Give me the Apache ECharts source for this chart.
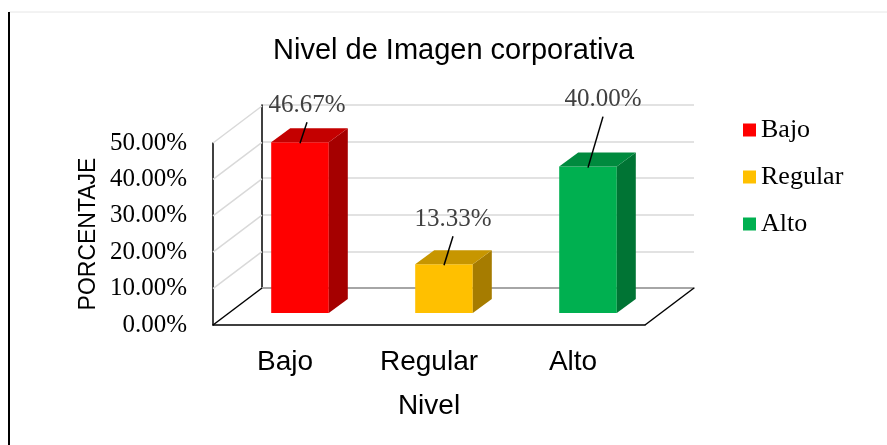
<!DOCTYPE html>
<html>
<head>
<meta charset="utf-8">
<script src="https://cdn.jsdelivr.net/npm/echarts@6/dist/echarts.min.js"></script>
<style>
  html, body { margin: 0; padding: 0; background: #fff; }
  #chart { width: 887px; height: 445px; }
</style>
</head>
<body>
<div id="chart"></div>
<script>
// data
var categories = ['Bajo', 'Regular', 'Alto'];
var values = [0.4667, 0.1333, 0.40];
var yTicks = [0, 0.1, 0.2, 0.3, 0.4, 0.5];

// colours: front, side, top
var faceColors = ['#FF0000', '#FFC000', '#00B050'];
var sideColors = ['#A50000', '#A67C00', '#007434'];
var topColors = ['#C40000', '#C79600', '#008A3E'];

var SERIF = '"Liberation Serif", "Times New Roman", serif';
var SANS = '"Liberation Sans", Arial, sans-serif';

// depth of the box (walls) and of each bar
var WALL_DX = 49, WALL_DY = 37;
var BAR_DX = 19, BAR_DY = 14;
var BAR_RATIO = 0.4;
// manual label placement relative to bar top (as in the original)
var labelShift = [[7, -37], [9, -45], [15, -67]];

function pct(v) { return (v * 100).toFixed(2) + '%'; }

var myChart = echarts.init(document.getElementById('chart'));

function renderWalls(params, api) {
  var v = api.value(1);
  var band = api.size([1, 0])[0];
  var p = api.coord([0, v]);
  var xl = p[0] - band / 2;
  var children = [{
    type: 'line',
    shape: { x1: xl, y1: p[1], x2: xl + WALL_DX, y2: p[1] - WALL_DY },
    style: { stroke: v === 0 ? '#000' : '#d9d9d9', lineWidth: 1.5 }
  }];
  if (v === 0) {
    var xr = api.coord([categories.length - 1, 0])[0] + band / 2;
    children.push({
      type: 'line',
      shape: { x1: xr, y1: p[1], x2: xr + WALL_DX, y2: p[1] - WALL_DY },
      style: { stroke: '#000', lineWidth: 1.5 }
    });
  }
  return { type: 'group', children: children };
}

function renderBar(params, api) {
  var i = api.value(0), v = api.value(1);
  var top = api.coord([i, v]);
  var base = api.coord([i, 0]);
  var w = api.size([1, 0])[0] * BAR_RATIO;
  var x0 = top[0] - w / 2, x1 = top[0] + w / 2;
  var lx = top[0] + labelShift[i][0], ly = top[1] + labelShift[i][1];
  return {
    type: 'group',
    children: [
      { type: 'rect', shape: { x: x0, y: top[1], width: w, height: base[1] - top[1] },
        style: { fill: faceColors[i] } },
      { type: 'polygon', shape: { points: [[x1, top[1]], [x1 + BAR_DX, top[1] - BAR_DY], [x1 + BAR_DX, base[1] - BAR_DY], [x1, base[1]]] },
        style: { fill: sideColors[i] } },
      { type: 'polygon', shape: { points: [[x0, top[1]], [x0 + BAR_DX, top[1] - BAR_DY], [x1 + BAR_DX, top[1] - BAR_DY], [x1, top[1]]] },
        style: { fill: topColors[i] } },
      { type: 'line', shape: { x1: lx, y1: ly + 17, x2: top[0], y2: top[1] + 1 },
        style: { stroke: '#000', lineWidth: 1.5 } },
      { type: 'text', x: lx, y: ly,
        style: { text: pct(v), fill: '#404040', font: '25px ' + SERIF, align: 'center', verticalAlign: 'middle' } }
    ]
  };
}

var series = [{
  name: 'walls',
  type: 'custom',
  xAxisIndex: 0, yAxisIndex: 0,
  z: 1,
  silent: true,
  renderItem: renderWalls,
  encode: { x: 0, y: 1 },
  data: yTicks.map(function (t) { return [0, t]; })
}];
categories.forEach(function (c, i) {
  series.push({
    name: c,
    type: 'custom',
    xAxisIndex: 2, yAxisIndex: 2,
    z: 3,
    itemStyle: { color: faceColors[i] },
    renderItem: renderBar,
    encode: { x: 0, y: 1 },
    data: [[i, values[i]]]
  });
});

var option = {
  animation: false,
  title: {
    text: 'Nivel de Imagen corporativa',
    left: 268, top: 31,
    textStyle: { fontFamily: SANS, fontSize: 29, fontWeight: 'normal', color: '#000' }
  },
  legend: {
    data: categories,
    orient: 'vertical',
    left: 738, top: 112,
    icon: 'rect',
    itemWidth: 13, itemHeight: 13,
    itemGap: 21,
    textStyle: { fontFamily: SERIF, fontSize: 26, color: '#000', lineHeight: 26 }
  },
  grid: [
    { left: 213, top: 143, width: 432, height: 182 },  // front plane
    { left: 262, top: 105, width: 432, height: 183 },  // back wall
    { left: 228, top: 130, width: 432, height: 183 }   // bars (mid depth)
  ],
  xAxis: [
    { type: 'category', gridIndex: 0, data: categories,
      axisLine: { lineStyle: { color: '#000', width: 1.5 } },
      axisTick: { show: false },
      axisLabel: { fontFamily: SANS, fontSize: 28, color: '#000', margin: 23 },
      name: 'Nivel', nameLocation: 'middle', nameGap: 67,
      nameTextStyle: { fontFamily: SANS, fontSize: 28, color: '#000' } },
    { type: 'category', gridIndex: 1, data: categories,
      axisLine: { lineStyle: { color: '#a6a6a6', width: 2 } },
      axisTick: { show: false }, axisLabel: { show: false } },
    { type: 'category', gridIndex: 2, data: categories, show: false }
  ],
  yAxis: [
    { type: 'value', gridIndex: 0, min: 0, max: 0.5, interval: 0.1,
      axisLine: { show: true, lineStyle: { color: '#000', width: 1.5 } },
      axisTick: { show: false },
      splitLine: { show: false },
      axisLabel: { formatter: pct, fontFamily: SERIF, fontSize: 25, color: '#000', margin: 26 },
      name: 'PORCENTAJE', nameLocation: 'middle', nameGap: 113,
      nameTextStyle: { fontFamily: SANS, fontSize: 23, color: '#000' } },
    { type: 'value', gridIndex: 1, min: 0, max: 0.5, interval: 0.1,
      axisLine: { show: true, lineStyle: { color: '#000', width: 1.5 } },
      axisTick: { show: false }, axisLabel: { show: false },
      splitLine: { show: true, lineStyle: { color: '#d9d9d9', width: 1.5 } } },
    { type: 'value', gridIndex: 2, min: 0, max: 0.5, interval: 0.1, show: false,
      splitLine: { show: false } }
  ],
  graphic: [
    { type: 'line', shape: { x1: 9, y1: 12, x2: 887, y2: 12 }, style: { stroke: '#e6e6e6', lineWidth: 1 } },
    { type: 'line', shape: { x1: 9, y1: 12, x2: 9, y2: 445 }, style: { stroke: '#000', lineWidth: 2 } }
  ],
  series: series
};

myChart.setOption(option);
</script>
</body>
</html>
